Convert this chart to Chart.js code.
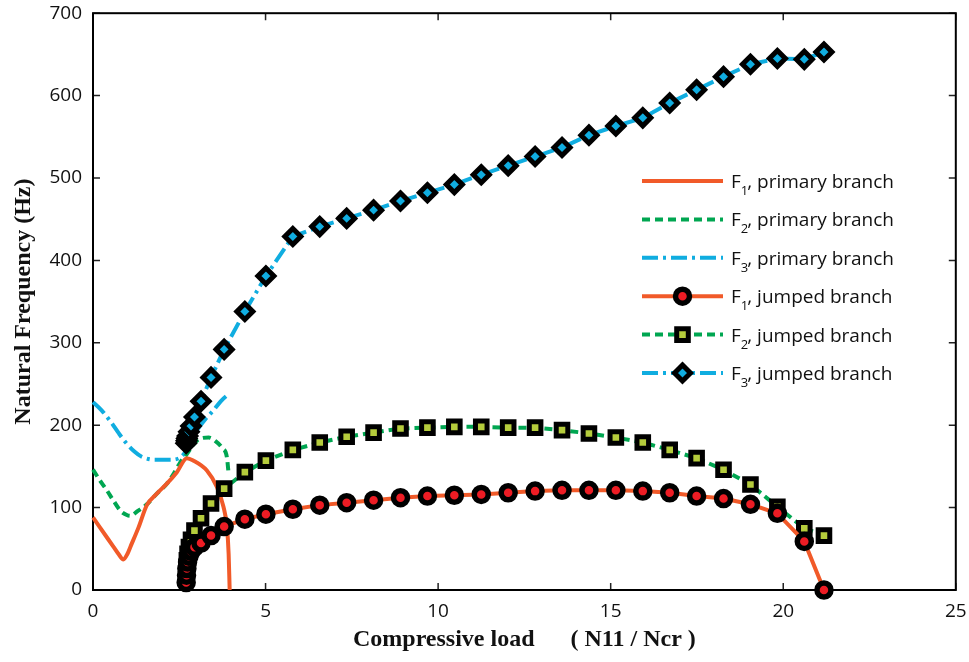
<!DOCTYPE html>
<html>
<head>
<meta charset="utf-8">
<script src="https://cdn.jsdelivr.net/npm/chart.js@4.4.1/dist/chart.umd.min.js"></script>
<style>
  html, body { margin: 0; padding: 0; background: #fff; }
  #wrap { width: 969px; height: 662px; }
</style>
</head>
<body>
<div id="wrap"><canvas id="freqChart"></canvas></div>
<script>
// Primary branch: load ratio N11/Ncr and natural frequency (Hz) of the first three modes
var primaryLoadF1 = [0, 0.2, 0.4, 0.6, 0.75, 0.88, 1.0, 1.08, 1.32, 1.56, 1.85, 2.14, 2.43, 2.72, 2.91, 3.3, 3.59, 3.78, 3.88, 3.93, 3.96];
var primaryF1     = [88, 76, 64, 52, 43, 37, 44, 52, 76, 103, 117, 129, 143, 160, 157, 145, 125, 101, 77, 44, 0];

var primaryLoadF2 = [0, 0.2, 0.4, 0.6, 0.8, 0.98, 1.08, 1.3, 1.56, 1.85, 2.14, 2.35, 2.53, 2.72, 2.9, 3.06, 3.35, 3.54, 3.75, 3.88, 3.93];
var primaryF2     = [146, 133, 121, 108, 96, 91, 90, 96, 104, 117, 129, 142, 155, 165, 176, 183, 185, 181, 172, 161, 141];

var primaryLoadF3 = [0, 0.25, 0.5, 0.75, 0.95, 1.2, 1.4, 1.8, 2.2, 2.5, 2.72, 3.0, 3.25, 3.49, 3.7, 3.88, 3.95];
var primaryF3     = [228, 218, 205, 190, 179, 168, 162, 158, 158, 160, 170, 193, 207, 218, 229, 236, 238];

// Jumped branch: all three modes share the same load steps
var jumpedLoad = [2.70, 2.71, 2.72, 2.74, 2.78, 2.84, 2.94, 3.13, 3.42, 3.80, 4.40, 5.01, 5.79, 6.57, 7.35, 8.13, 8.91,
                  9.69, 10.47, 11.25, 12.03, 12.81, 13.59, 14.37, 15.15, 15.93, 16.71, 17.49, 18.27, 19.05, 19.83, 20.61, 21.18];
var jumpedF1 = [9, 18, 26, 34, 41, 47, 52, 57, 66, 77, 86, 92, 98, 103, 106, 109, 112,
                114, 115, 116, 118, 120, 121, 121, 121, 120, 118, 114, 111, 104, 93, 59, 0];
var jumpedF2 = [20, 28, 36, 44, 52, 61, 72, 87, 105, 123, 143, 157, 170, 179, 186, 191, 196,
                197, 198, 198, 197, 197, 194, 190, 185, 179, 170, 160, 146, 128, 101, 75, 66];
var jumpedF3 = [178, 181, 184, 187, 192, 199, 210, 229, 258, 292, 338, 381, 429, 441, 451, 461, 472,
                482, 492, 504, 515, 526, 537, 552, 563, 573, 591, 607, 623, 638, 645, 644, 653];

var xTicks = [0, 5, 10, 15, 20, 25];
var yTicks = [0, 100, 200, 300, 400, 500, 600, 700];

var ORANGE = '#F15A29';
var GREEN = '#00A651';
var CYAN = '#10ADE0';

function toPoints(xs, ys) {
    var pts = [];
    for (var i = 0; i < xs.length; i++) pts.push({ x: xs[i], y: ys[i] });
    return pts;
}

function primarySet(mode, xs, ys, color, dash) {
    return {
        label: 'F' + mode + ', primary branch',
        data: toPoints(xs, ys),
        borderColor: color,
        borderWidth: 4,
        borderDash: dash,
        pointRadius: 0,
        cubicInterpolationMode: 'monotone',
        fill: false,
        clip: false,
        order: 2
    };
}

function jumpedSet(mode, ys, color, dash, style, inner, radius, bw) {
    return {
        label: 'F' + mode + ', jumped branch',
        data: toPoints(jumpedLoad, ys),
        borderColor: color,
        borderWidth: 4,
        borderDash: dash,
        tension: 0,
        pointStyle: style,
        pointRadius: radius,
        pointBackgroundColor: inner,
        pointBorderColor: '#000',
        pointBorderWidth: bw,
        fill: false,
        clip: false,
        order: 1
    };
}

var dashF2 = [8, 5];
var dashF3 = [16, 5, 3, 5];

// box frame with inward tick marks on all four sides
var framePlugin = {
    id: 'frame',
    beforeDatasetsDraw: function (chart) {
        var ctx = chart.ctx, a = chart.chartArea;
        var xs = chart.scales.x, ys = chart.scales.y;
        ctx.save();
        ctx.strokeStyle = '#222';
        ctx.lineWidth = 1.5;
        ctx.beginPath();
        xTicks.forEach(function (v) {
            var px = xs.getPixelForValue(v);
            ctx.moveTo(px, a.bottom); ctx.lineTo(px, a.bottom - 7);
            ctx.moveTo(px, a.top); ctx.lineTo(px, a.top + 7);
        });
        yTicks.forEach(function (v) {
            var py = ys.getPixelForValue(v);
            ctx.moveTo(a.left, py); ctx.lineTo(a.left + 7, py);
            ctx.moveTo(a.right, py); ctx.lineTo(a.right - 7, py);
        });
        ctx.stroke();
        ctx.strokeStyle = '#000';
        ctx.lineWidth = 2;
        ctx.strokeRect(a.left, a.top, a.right - a.left, a.bottom - a.top);
        ctx.restore();
    }
};

function drawMarker(ctx, ds, x, y) {
    var r = ds.pointRadius;
    ctx.save();
    ctx.setLineDash([]);
    ctx.fillStyle = ds.pointBackgroundColor;
    ctx.strokeStyle = ds.pointBorderColor;
    ctx.lineWidth = ds.pointBorderWidth;
    ctx.beginPath();
    if (ds.pointStyle === 'circle') {
        ctx.arc(x, y, r, 0, Math.PI * 2);
    } else if (ds.pointStyle === 'rect') {
        var s = r * Math.SQRT1_2;
        ctx.rect(x - s, y - s, 2 * s, 2 * s);
    } else {
        ctx.moveTo(x - r, y); ctx.lineTo(x, y - r); ctx.lineTo(x + r, y); ctx.lineTo(x, y + r);
        ctx.closePath();
    }
    ctx.fill();
    ctx.stroke();
    ctx.restore();
}

// legend inside the plot, with the mode number as a subscript
var legendPlugin = {
    id: 'insideLegend',
    afterDraw: function (chart) {
        var ctx = chart.ctx;
        var x0 = 642, x1 = 723, tx = 731, y = 181, step = 38.4;
        chart.data.datasets.forEach(function (ds) {
            ctx.save();
            ctx.strokeStyle = ds.borderColor;
            ctx.lineWidth = ds.borderWidth;
            ctx.setLineDash(ds.borderDash || []);
            ctx.beginPath();
            ctx.moveTo(x0, y); ctx.lineTo(x1, y);
            ctx.stroke();
            ctx.restore();
            if (ds.pointRadius > 0) drawMarker(ctx, ds, (x0 + x1) / 2, y);

            var parts = ds.label.match(/^F(\d)(.*)$/);
            ctx.save();
            ctx.fillStyle = '#111';
            ctx.textBaseline = 'alphabetic';
            ctx.font = '19px "Open Sans"';
            ctx.fillText('F', tx, y + 7);
            var w = ctx.measureText('F').width;
            ctx.font = '13px "Open Sans"';
            ctx.fillText(parts[1], tx + w, y + 14);
            var w2 = ctx.measureText(parts[1]).width;
            ctx.font = '19px "Open Sans"';
            ctx.fillText(parts[2], tx + w + w2 - 1, y + 7);
            ctx.restore();
            y += step;
        });
    }
};

var datasets = [
    primarySet(1, primaryLoadF1, primaryF1, ORANGE, []),
    primarySet(2, primaryLoadF2, primaryF2, GREEN, dashF2),
    primarySet(3, primaryLoadF3, primaryF3, CYAN, dashF3),
    jumpedSet(1, jumpedF1, ORANGE, [], 'circle', '#ED1C24', 7, 5.5),
    jumpedSet(2, jumpedF2, GREEN, dashF2, 'rect', '#B5CC3C', 8.2, 5),
    jumpedSet(3, jumpedF3, CYAN, dashF3, 'rectRot', CYAN, 8, 5)
];

document.addEventListener('DOMContentLoaded', function () {
    var ctx = document.getElementById('freqChart').getContext('2d');
    new Chart(ctx, {
        type: 'line',
        data: { datasets: datasets },
        options: {
            responsive: true,
            maintainAspectRatio: false,
            animation: false,
            devicePixelRatio: 1,
            layout: { padding: { left: 0, right: 13, top: 11, bottom: 0 } },
            plugins: {
                legend: { display: false },
                tooltip: { enabled: false }
            },
            scales: {
                x: {
                    type: 'linear',
                    min: 0,
                    max: 25,
                    afterBuildTicks: function (s) { s.ticks = xTicks.map(function (v) { return { value: v }; }); },
                    afterFit: function (s) { s.height = 72; s.paddingLeft = 0; s.paddingRight = 0; },
                    grid: { display: false, drawTicks: false },
                    border: { display: false },
                    ticks: { color: '#111', padding: 10, font: { family: 'Open Sans', size: 19 } },
                    title: {
                        display: true,
                        text: 'Compressive load      ( N11 / Ncr )',
                        color: '#111',
                        padding: { top: 0, bottom: 8 },
                        font: { family: 'Liberation Serif', size: 24, weight: 'bold' }
                    }
                },
                y: {
                    type: 'linear',
                    min: 0,
                    max: 700,
                    afterBuildTicks: function (s) { s.ticks = yTicks.map(function (v) { return { value: v }; }); },
                    afterFit: function (s) { s.width = 93; s.paddingTop = 0; s.paddingBottom = 0; },
                    grid: { display: false, drawTicks: false },
                    border: { display: false },
                    ticks: { color: '#111', padding: 11, font: { family: 'Open Sans', size: 19 } },
                    title: {
                        display: true,
                        text: 'Natural Frequency (Hz)',
                        color: '#111',
                        padding: { top: 9, bottom: 0 },
                        font: { family: 'Liberation Serif', size: 24, weight: 'bold' }
                    }
                }
            }
        },
        plugins: [framePlugin, legendPlugin]
    });
});
</script>
</body>
</html>
